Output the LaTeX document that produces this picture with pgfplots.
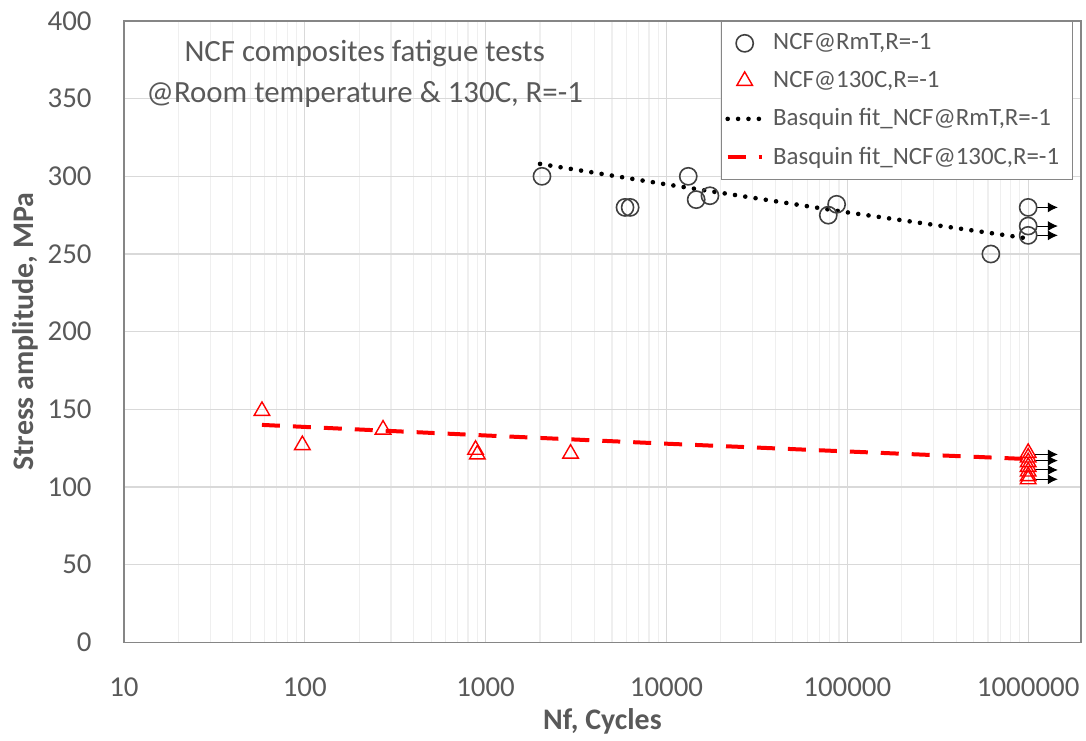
\documentclass[border=0pt]{standalone}
\usepackage{fontspec}
\setmainfont{Carlito}
\usepackage{pgfplots}
\pgfplotsset{compat=1.18}
\usetikzlibrary{arrows.meta}

\definecolor{txtgray}{HTML}{595959}
\definecolor{axgray}{HTML}{868686}
\definecolor{gridgray}{HTML}{D9D9D9}
\definecolor{minorgray}{HTML}{EFEFEF}
\definecolor{mkgray}{HTML}{404040}

\begin{document}
\begin{tikzpicture}
\begin{axis}[
    name=ax,
    scale only axis,
    width=479bp, height=311bp,
    xmode=log,
    xmin=10, xmax=1.96e6,
    ymin=0, ymax=400,
    xtick={10,100,1000,10000,100000,1000000},
    xticklabels={10,100,1000,10000,100000,1000000},
    ytick={0,50,...,400},
    major tick length=0pt, minor tick length=0pt,
    xmajorgrids, xminorgrids, ymajorgrids,
    major grid style={gridgray, line width=0.6bp},
    minor grid style={minorgray, line width=0.6bp},
    axis line style={axgray, line width=0.9bp},
    tick label style={font=\fontsize{14.5}{16}\selectfont, text=txtgray},
    /pgf/number format/assume math mode=true,
    xticklabel style={anchor=center, yshift=-22.5bp},
    yticklabel style={anchor=east, inner sep=0pt, xshift=-16bp},
    xlabel={Nf, Cycles},
    ylabel={Stress amplitude, MPa},
    label style={font=\fontsize{15}{17}\selectfont\bfseries, text=txtgray},
    xlabel style={at={(axis description cs:0.5,-0.127)}, anchor=center},
    ylabel style={at={(axis description cs:-0.1033,0.5)}, anchor=center},
    legend cell align=left,
    legend style={at={(rel axis cs:0.9916,1)}, anchor=north east,
        draw=axgray, line width=0.6bp,
        font=\fontsize{12.5}{15}\selectfont, text=txtgray,
        inner xsep=2bp, inner ysep=1.5bp,
        nodes={inner sep=4.6bp}},
]

% run-out arrows (tests stopped at 1e6 cycles)
\addplot[forget plot, black, line width=0.5bp, -{Latex[length=5bp,width=5bp]}, shorten <=4.3bp] coordinates {(1e6,280) (1.46e6,280)};
\addplot[forget plot, black, line width=0.5bp, -{Latex[length=5bp,width=5bp]}, shorten <=4.3bp] coordinates {(1e6,268) (1.46e6,268)};
\addplot[forget plot, black, line width=0.5bp, -{Latex[length=5bp,width=5bp]}, shorten <=4.3bp] coordinates {(1e6,262) (1.46e6,262)};
\addplot[forget plot, black, line width=0.5bp, -{Latex[length=5bp,width=5bp]}, shorten <=3bp] coordinates {(1e6,121) (1.46e6,121)};
\addplot[forget plot, black, line width=0.5bp, -{Latex[length=5bp,width=5bp]}, shorten <=3bp] coordinates {(1e6,117) (1.46e6,117)};
\addplot[forget plot, black, line width=0.5bp, -{Latex[length=5bp,width=5bp]}, shorten <=3bp] coordinates {(1e6,111) (1.46e6,111)};
\addplot[forget plot, black, line width=0.5bp, -{Latex[length=5bp,width=5bp]}, shorten <=3bp] coordinates {(1e6,105) (1.46e6,105)};

\addplot[only marks, mark=o, mark size=4.3bp, mark options={mkgray, line width=0.8bp}]
coordinates {
    (2050,300) (5900,280) (6300,280) (13200,300) (14600,285) (17400,287.5)
    (78500,275) (87300,282) (622000,250) (1e6,280) (1e6,268) (1e6,262)
};
\addlegendentry{NCF@RmT,R=-1}

\addplot[only marks, mark=triangle, mark size=4.5bp, mark options={red, line width=0.7bp}]
coordinates {
    (58,149) (97,127) (271,137) (880,124) (900,121) (2950,121.5)
    (1e6,122) (1e6,119) (1e6,116) (1e6,113) (1e6,110) (1e6,107) (1e6,105)
};
\addlegendentry{NCF@130C,R=-1}

\addplot[black, line width=2.3bp, line cap=round, dash pattern=on 0pt off 5.2bp]
coordinates {(2000,308) (10000,294.8) (100000,276.8) (1000000,260)};
\addlegendentry{Basquin fit\_NCF@RmT,R=-1}

\addplot[red, line width=2bp, dash pattern=on 9bp off 6.5bp]
coordinates {(58,140) (1000,133.2) (10000,127.9) (100000,122.9) (1000000,118)};
\addlegendentry{Basquin fit\_NCF@130C,R=-1}

\node[align=center, text=txtgray, font=\fontsize{15.5}{21}\selectfont]
    at (rel axis cs:0.2516,0.915) {NCF composites fatigue tests\\@Room temperature \& 130C, R=-1};
\end{axis}
\path[use as bounding box] ([xshift=-62bp,yshift=-47bp]ax.south west) rectangle ([xshift=2bp,yshift=10.5bp]ax.north east);
\end{tikzpicture}
\end{document}
